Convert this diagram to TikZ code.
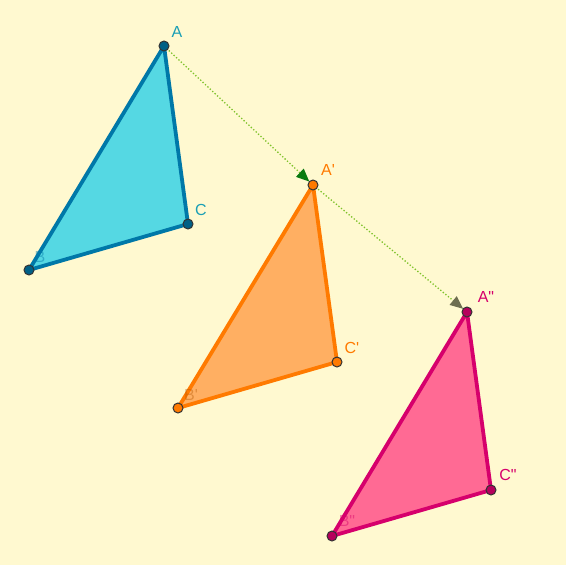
\documentclass[tikz,border=0pt]{standalone}
\usepackage{fontspec}
\setmainfont{Liberation Sans}
\usetikzlibrary{arrows.meta}
\definecolor{bgcream}{HTML}{FFF9D0}
\definecolor{cyanfill}{HTML}{55D8E3}
\definecolor{cyanedge}{HTML}{0078A8}
\definecolor{cyanlbl}{HTML}{1A9FB5}
\definecolor{orafill}{HTML}{FFAF62}
\definecolor{oraedge}{HTML}{FF7A00}
\definecolor{pinkfill}{HTML}{FF6A94}
\definecolor{pinkedge}{HTML}{D6006C}
\definecolor{vecline}{HTML}{7EC22A}
\definecolor{vectipA}{HTML}{0A7A10}
\definecolor{vectipB}{HTML}{6E6E50}
\newcommand{\prm}{\textquotesingle}
\newcommand{\dprm}{\textquotedbl}
\tikzset{
  pt/.style={circle, draw=black!80, line width=1pt, inner sep=0pt, minimum size=10pt},
  lbl/.style={font=\fontsize{16}{18}\selectfont, inner sep=1pt},
  tri/.style={line width=3.8pt, line join=round},
  vec/.style={vecline, line width=1.3pt, dotted, shorten >=5pt}
}
\begin{document}
\begin{tikzpicture}[x=1pt, y=-1pt]
    \fill[bgcream] (0,0) rectangle (566,565);
    \useasboundingbox (0,0) rectangle (566,565);

    % --- vertices ---
    \coordinate (A) at (164,46);
    \coordinate (B) at (29,270);
    \coordinate (C) at (188,224);
    \coordinate (A1) at (313,185);
    \coordinate (B1) at (178,408);
    \coordinate (C1) at (337,362);
    \coordinate (A2) at (467,312);
    \coordinate (B2) at (332,536);
    \coordinate (C2) at (491,490);

    % --- triangles ---
    \draw[tri, fill=cyanfill, draw=cyanedge] (A) -- (B) -- (C) -- cycle;
    \draw[tri, fill=orafill, draw=oraedge] (A1) -- (B1) -- (C1) -- cycle;
    \draw[tri, fill=pinkfill, draw=pinkedge] (A2) -- (B2) -- (C2) -- cycle;

    % --- labels ---
    \node[lbl, text=cyanlbl] (lA) at (177,32) {A};
    \node[lbl, text=cyanedge, text opacity=0.45] (lB) at (40,257) {B};
    \node[lbl, text=cyanlbl] (lC) at (201,210) {C};
    \node[lbl, text=oraedge] (lA1) at (328,170) {A\prm};
    \node[lbl, text=oraedge!70!black, text opacity=0.4] (lB1) at (191,395) {B\prm};
    \node[lbl, text=oraedge] (lC1) at (352,348) {C\prm};
    \node[lbl, text=pinkedge] (lA2) at (486,297) {A\dprm};
    \node[lbl, text=pinkedge, text opacity=0.45] (lB2) at (347,521) {B\dprm};
    \node[lbl, text=pinkedge] (lC2) at (508,475) {C\dprm};

    % --- translation vectors ---
    \draw[vec, -{Triangle[length=13pt, width=11pt, fill=vectipA, color=vectipA]}] (A) -- (A1);
    \draw[vec, -{Triangle[length=13pt, width=11pt, fill=vectipB, color=vectipB]}] (A1) -- (A2);

    % --- points ---
    \foreach \p in {A,B,C} \node[pt, fill=cyanedge!80!black] at (\p) {};
    \foreach \p in {A1,B1,C1} \node[pt, fill=oraedge] at (\p) {};
    \foreach \p in {A2,B2,C2} \node[pt, fill=pinkedge!85!black] at (\p) {};
\end{tikzpicture}
\end{document}
